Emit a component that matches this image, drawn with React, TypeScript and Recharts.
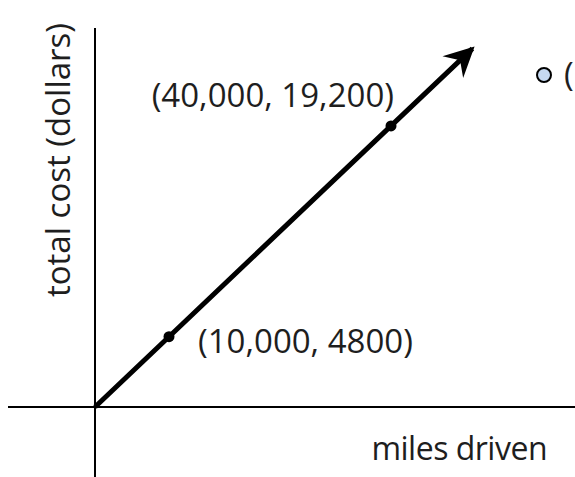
import React from 'react';
import { ComposedChart, Line, XAxis, YAxis, ReferenceLine, ReferenceDot, LabelList, Customized } from 'recharts';

const miles = [0, 10000, 40000, 51000];
const cost = [0, 4800, 19200, 24480];
const pointLabels = ['', '(10,000, 4800)', '(40,000, 19,200)', ''];
const showDot = [false, true, true, false];
const xTitle = 'miles driven';
const yTitle = 'total cost (dollars)';
const xDomain = [-12838, 64865];
const yDomain = [-4781, 27800];
const axisExtent = { xStart: -11757, yTop: 25880 };
const bullet = { x: 60676, y: 22678, text: '(' };

const data = miles.map((m, i) => ({ miles: m, cost: cost[i], label: pointLabels[i] }));

const FONT = '"Open Sans", sans-serif';
const FS = 33;
const TXT = '#1e1e1e';

const renderDot = (props: any) => {
  const { cx, cy, index, points } = props;
  if (index === points.length - 1) {
    const prev = points[index - 1];
    const dx = cx - prev.x;
    const dy = cy - prev.y;
    const len = Math.sqrt(dx * dx + dy * dy);
    const ux = dx / len;
    const uy = dy / len;
    const nx = -uy;
    const ny = ux;
    const tx = cx + ux * 3;
    const ty = cy + uy * 3;
    const back = 30;
    const half = 15;
    const notch = 20;
    const p = [
      [tx, ty],
      [tx - ux * back + nx * half, ty - uy * back + ny * half],
      [tx - ux * notch, ty - uy * notch],
      [tx - ux * back - nx * half, ty - uy * back - ny * half],
    ];
    return <polygon key={`arrow-${index}`} points={p.map((q) => q.join(',')).join(' ')} fill="#000" />;
  }
  if (!showDot[index]) return <g key={`d-${index}`} />;
  return <circle key={`d-${index}`} cx={cx} cy={cy} r={5.5} fill="#000" />;
};

const renderLabel = (props: any) => {
  const { x, y, index } = props;
  const text = pointLabels[index];
  if (!text) return null;
  if (index === 2) {
    return (
      <text key={`l-${index}`} x={x + 3} y={y - 19} textAnchor="end" fontFamily={FONT} fontSize={FS} fill={TXT}>
        {text}
      </text>
    );
  }
  return (
    <text key={`l-${index}`} x={x + 29} y={y + 16} textAnchor="start" fontFamily={FONT} fontSize={FS} fill={TXT}>
      {text}
    </text>
  );
};

const Titles = () => (
  <g>
    <text x={547} y={460} textAnchor="end" fontFamily={FONT} fontSize={32} letterSpacing={-0.5} fill={TXT}>
      {xTitle}
    </text>
    <text
      x={0}
      y={0}
      transform="translate(70,160) rotate(-90)"
      textAnchor="middle"
      fontFamily={FONT}
      fontSize={FS}
      fill={TXT}
    >
      {yTitle}
    </text>
  </g>
);

export default function App() {
  return (
    <div style={{ position: 'absolute', left: 0, top: 0, width: 575, height: 477, background: '#fff' }}>
      <ComposedChart width={575} height={477} data={data} margin={{ top: 0, right: 0, bottom: 0, left: 0 }}>
        <XAxis dataKey="miles" type="number" domain={xDomain} hide allowDataOverflow />
        <YAxis type="number" domain={yDomain} hide allowDataOverflow />
        <ReferenceLine
          segment={[{ x: axisExtent.xStart, y: 0 }, { x: xDomain[1], y: 0 }]}
          stroke="#000"
          strokeWidth={2}
          ifOverflow="visible"
        />
        <ReferenceLine
          segment={[{ x: 0, y: yDomain[0] }, { x: 0, y: axisExtent.yTop }]}
          stroke="#000"
          strokeWidth={2}
          ifOverflow="visible"
        />
        <Line
          type="linear"
          dataKey="cost"
          stroke="#000"
          strokeWidth={5}
          dot={renderDot}
          activeDot={false}
          isAnimationActive={false}
        >
          <LabelList dataKey="label" content={renderLabel} />
        </Line>
        <ReferenceDot
          x={bullet.x}
          y={bullet.y}
          r={7}
          fill="#c6d9f1"
          stroke="#000"
          strokeWidth={2}
          ifOverflow="visible"
          label={(p: any) => {
            const vb = p.viewBox || {};
            const cx = (vb.x || 0) + (vb.width || 0) / 2;
            const cy = (vb.y || 0) + (vb.height || 0) / 2;
            return (
              <text x={cx + 20} y={cy + 11} fontFamily={FONT} fontSize={FS} fill={TXT}>
                {bullet.text}
              </text>
            );
          }}
        />
        <Customized component={Titles} />
      </ComposedChart>
    </div>
  );
}
